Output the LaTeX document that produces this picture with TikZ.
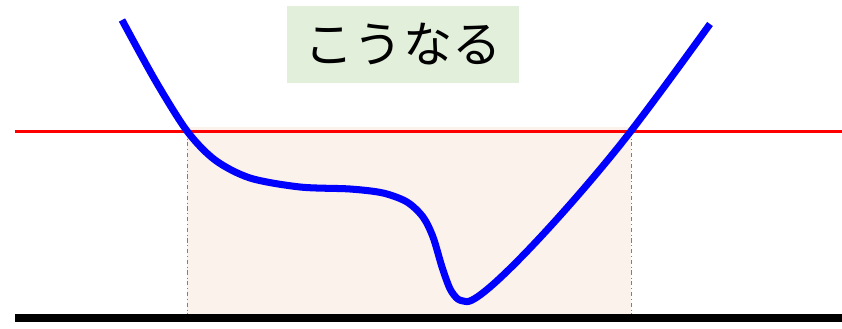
\documentclass[tikz,border=0pt]{standalone}
\usepackage{fontspec}
\usepackage{tikz}
\usetikzlibrary{positioning,calc}
\newfontfamily\jpfont{Noto Sans CJK JP}
\definecolor{curveblue}{HTML}{0000FF}
\definecolor{limitred}{HTML}{FF0000}
\definecolor{floorink}{HTML}{000000}
\definecolor{shadepale}{HTML}{FBF2EC}
\definecolor{greenpale}{HTML}{E2EFDA}
\definecolor{guidegray}{HTML}{7F7F7F}
\tikzset{
  curve/.style={draw=curveblue,line width=5pt,line join=round},
  limitline/.style={draw=limitred,line width=2.2pt},
  floorline/.style={draw=floorink,line width=5pt},
  guide/.style={draw=guidegray,line width=.6pt,dash dot},
  band/.style={fill=shadepale,draw=none},
  tag/.style={fill=greenpale,minimum width=5.8cm,minimum height=1.925cm,inner sep=0pt,font=\jpfont\fontsize{35}{40}\selectfont},
}

\begin{document}
\begin{tikzpicture}[x=1cm,y=1cm]
  \useasboundingbox (0,0) rectangle (21.05,8.2);

  % crossing points of the curve with the red line
  \coordinate (cl) at (4.675,4.91);
  \coordinate (cr) at (15.775,4.91);
  \coordinate (bl) at (4.675,0.25);
  \coordinate (br) at (15.775,0.25);

  \fill[band] (4.675,0.25) rectangle (15.775,5.025);
  \draw[guide] (cl) -- (bl);
  \draw[guide] (cr) -- (br);

  \draw[limitline] (0.375,4.91) -- (21.05,4.91);
  \draw[floorline] (0.375,0.25) -- (21.05,0.25);

  \draw[curve] plot[smooth,tension=.5] coordinates {
    (3.05,7.7) (3.875,6.2) (4.675,4.925) (5.375,4.2) (6.25,3.75)
    (7.5,3.525) (8.75,3.475) (9.575,3.375) (10.175,3.15) (10.575,2.775)
    (10.825,2.275) (11.05,1.525) (11.25,0.98) (11.45,0.72) (11.675,0.66)}
    .. controls (12.15,0.66) and (14.6,3.4) .. (15.775,4.925)
    .. controls (16.4,5.74) and (17.1,6.7) .. (17.75,7.6);

  \node[tag] (title) at (10.075,7.09) {こうなる};
\end{tikzpicture}
\end{document}
